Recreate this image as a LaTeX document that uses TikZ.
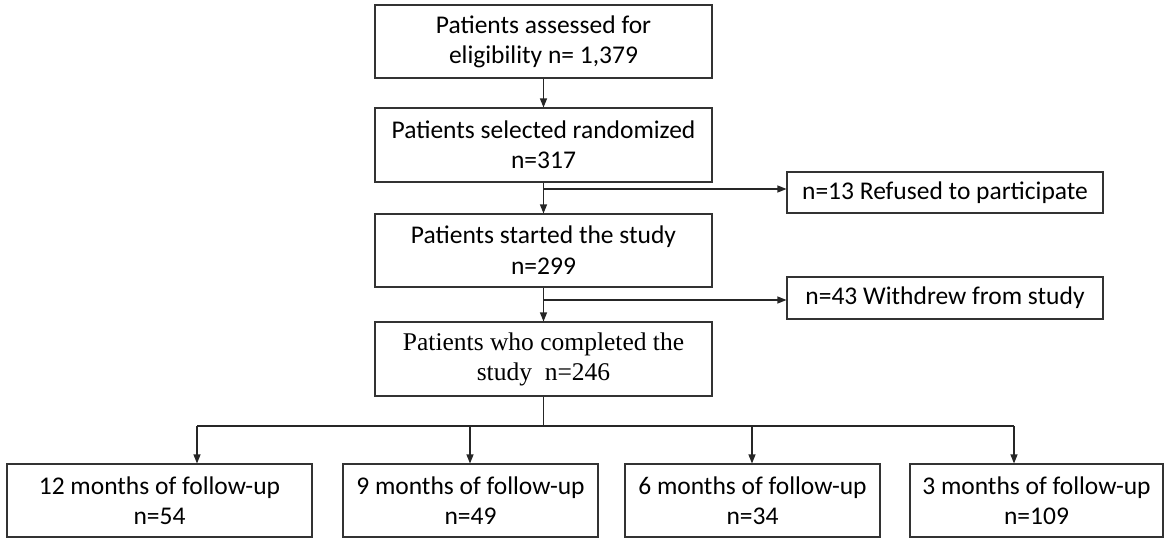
\documentclass[tikz,border=0pt]{standalone}
\usepackage{fontspec}
\setmainfont{Carlito}
\newfontfamily\timesfont{Liberation Serif}
\usetikzlibrary{arrows.meta}
\begin{document}
\begin{tikzpicture}[x=1pt,y=-1pt,
  box/.style={draw=black!80,line width=1.1pt,inner sep=0pt,align=center,
    font=\fontsize{25.5}{30}\selectfont},
  conn/.style={line width=1.1pt,draw=black!85},
  arr/.style={conn,-{Triangle[length=9pt,width=7pt]}}]
\useasboundingbox (0,0) rectangle (1170,543);
\node[box,minimum width=337pt,minimum height=73pt] (b1) at (543.5,41.5) {Patients assessed for\\eligibility n= 1,379};
\node[box,minimum width=337pt,minimum height=74pt] (b2) at (543.5,145) {Patients selected randomized\\n=317};
\node[box,minimum width=337pt,minimum height=73pt] (b3) at (543.5,250.5) {\resizebox{265pt}{!}{\fontsize{25}{30}\selectfont Patients started the study}\\[1pt]n=299};
\node[box,minimum width=337pt,minimum height=74pt,font=\timesfont\fontsize{25.5}{30}\selectfont] (b4) at (543.5,359) {Patients who completed the\\study\ \ n=246};
\node[box,minimum width=316pt,minimum height=41pt] (r) at (945,192.5) {n=13 Refused to participate};
\node[box,minimum width=316pt,minimum height=42pt] (w) at (945,298) {n=43 Withdrew from study};
\node[box,minimum width=305pt,minimum height=73pt] (f12) at (159.5,500.5) {12 months of follow-up\\n=54};
\node[box,minimum width=255pt,minimum height=73pt] (f9) at (470.5,500.5) {9 months of follow-up\\n=49};
\node[box,minimum width=255pt,minimum height=73pt] (f6) at (752.5,500.5) {6 months of follow-up\\n=34};
\node[box,minimum width=253pt,minimum height=73pt] (f3) at (1036.5,500.5) {3 months of follow-up\\n=109};
\coordinate (j1) at (543.5,189);
\coordinate (j2) at (543.5,300);
\coordinate (j3) at (543.5,426);
\coordinate (h12) at (197,426);
\coordinate (h9) at (470,426);
\coordinate (h6) at (752,426);
\coordinate (h3) at (1014,426);
\draw[arr] (b1) -- (b2);
\draw[arr] (b2) -- (b3);
\draw[arr] (b3) -- (b4);
\draw[arr] (j1) -- (r.west |- j1);
\draw[arr] (j2) -- (w.west |- j2);
\draw[conn] (b4.south) -- (j3);
\draw[conn] (h12) -- (h3);
\draw[arr] (h12) -- (h12 |- f12.north);
\draw[arr] (h9) -- (h9 |- f9.north);
\draw[arr] (h6) -- (h6 |- f6.north);
\draw[arr] (h3) -- (h3 |- f3.north);
\end{tikzpicture}
\end{document}
